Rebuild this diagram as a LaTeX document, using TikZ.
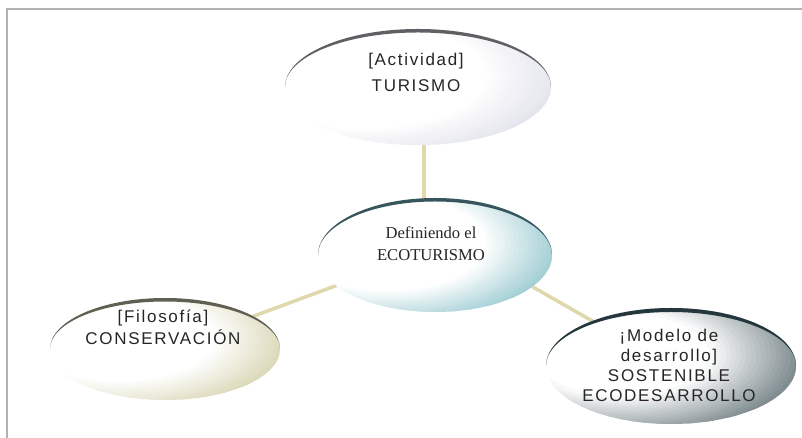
\documentclass[tikz,border=0pt]{standalone}
\usepackage{fontspec}
\setmainfont{Liberation Serif}
\newfontfamily\sansf[LetterSpace=10]{Liberation Sans}
\usetikzlibrary{shapes.geometric,calc}
\pgfdeclarelayer{bg}
\pgfsetlayers{bg,main}
\definecolor{fillTop}{RGB}{214,214,228}
\definecolor{fillCen}{RGB}{135,192,200}
\definecolor{fillLeft}{RGB}{208,203,162}
\definecolor{fillRight}{RGB}{78,96,102}
\definecolor{rimTop}{RGB}{95,95,100}
\definecolor{rimCen}{RGB}{55,85,92}
\definecolor{rimLeft}{RGB}{95,95,82}
\definecolor{rimRight}{RGB}{35,55,60}
\definecolor{connC}{RGB}{222,216,172}
\definecolor{frameC}{RGB}{178,178,178}
% soft radial gradient inside a bubble, drawn as overlapping rings:
% node, rx, ry, colour, white radius, full radius
\newcommand\bubblefill[6]{%
  \fill[white] (#1.center) ellipse[x radius=#2, y radius=#3];
  \begin{scope}
    \clip (#1.center) ellipse[x radius=#2, y radius=#3];
    \foreach \r in {112,110,...,38}{%
      \pgfmathsetmacro\pc{min(100,max(0,(\r-#5)/(#6-#5)*100))}%
      \pgfmathsetmacro\ri{\r-2.8}%
      \fill[#4!\pc!white,even odd rule] ($(#1.center)+(-0.4*#2,0.2*#3)$)
        ellipse[x radius=\r/50*#2, y radius=\r/50*#3]
        ($(#1.center)+(-0.4*#2,0.2*#3)$)
        ellipse[x radius=\ri/50*#2, y radius=\ri/50*#3];
    }
  \end{scope}}
\newcommand\bubblerim[5]{% node, rx, ry, thickness, color
  \fill[#5] (#1.west) arc[start angle=180,end angle=0,x radius=#2,y radius=#3]
    arc[start angle=0,end angle=180,x radius=#2,y radius=#3-#4] -- cycle;}
\begin{document}
\begin{tikzpicture}[x=1pt,y=1pt,
  ell/.style={ellipse,inner sep=0pt,outer sep=0pt,draw=none},
  conn/.style={line width=3.5pt,draw=connC},
  lbl/.style={align=center,text=black!85,inner sep=0pt},
  sanslbl/.style={lbl,font=\sansf\fontsize{17}{#1}\selectfont}]
\useasboundingbox (0,0) rectangle (802,438);
% bubbles (named shapes)
\node[ell,minimum width=266pt,minimum height=116pt] (topE) at (418,351) {};
\node[ell,minimum width=234pt,minimum height=114pt] (cenE) at (435,183) {};
\node[ell,minimum width=230pt,minimum height=102pt] (leftE) at (165,89) {};
\node[ell,minimum width=250pt,minimum height=116pt] (rightE) at (671,72) {};
\bubblefill{topE}{133}{58}{fillTop}{46}{88}
\bubblefill{cenE}{117}{57}{fillCen}{42}{82}
\bubblefill{leftE}{115}{51}{fillLeft}{42}{84}
\bubblefill{rightE}{125}{58}{fillRight}{36}{86}
\bubblerim{topE}{133}{58}{3.5}{rimTop}
\bubblerim{cenE}{117}{57}{3.5}{rimCen}
\bubblerim{leftE}{115}{51}{3.5}{rimLeft}
\bubblerim{rightE}{125}{58}{4}{rimRight}
% background, frame and connectors
\begin{pgfonlayer}{bg}
\fill[white] (0,0) rectangle (802,438);
\draw[frameC,line width=2pt] (7,0) -- (7,428.5) -- (802,428.5);
\draw[conn] ([xshift=6pt]topE.center) -- ([xshift=6pt]topE.center |- cenE.center);
\draw[conn] (leftE.center) -- ([yshift=6pt]cenE.center);
\draw[conn] ([yshift=24pt]cenE.center) -- (rightE.center);
\end{pgfonlayer}
% labels
\node[sanslbl=26] (topT) at (416,365.5) {[Actividad]\\TURISMO};
\node[lbl,font=\fontsize{16.6}{22}\selectfont] (cenT) at (431,194.5) {Definiendo el\\ECOTURISMO};
\node[sanslbl=22] (leftT) at (163,110.5) {[Filosofía]\\CONSERVACIÓN};
\node[sanslbl=20] (rightT) at (669,72.5) {¡Modelo de\\desarrollo]\\SOSTENIBLE\\ECODESARROLLO};
\end{tikzpicture}
\end{document}
